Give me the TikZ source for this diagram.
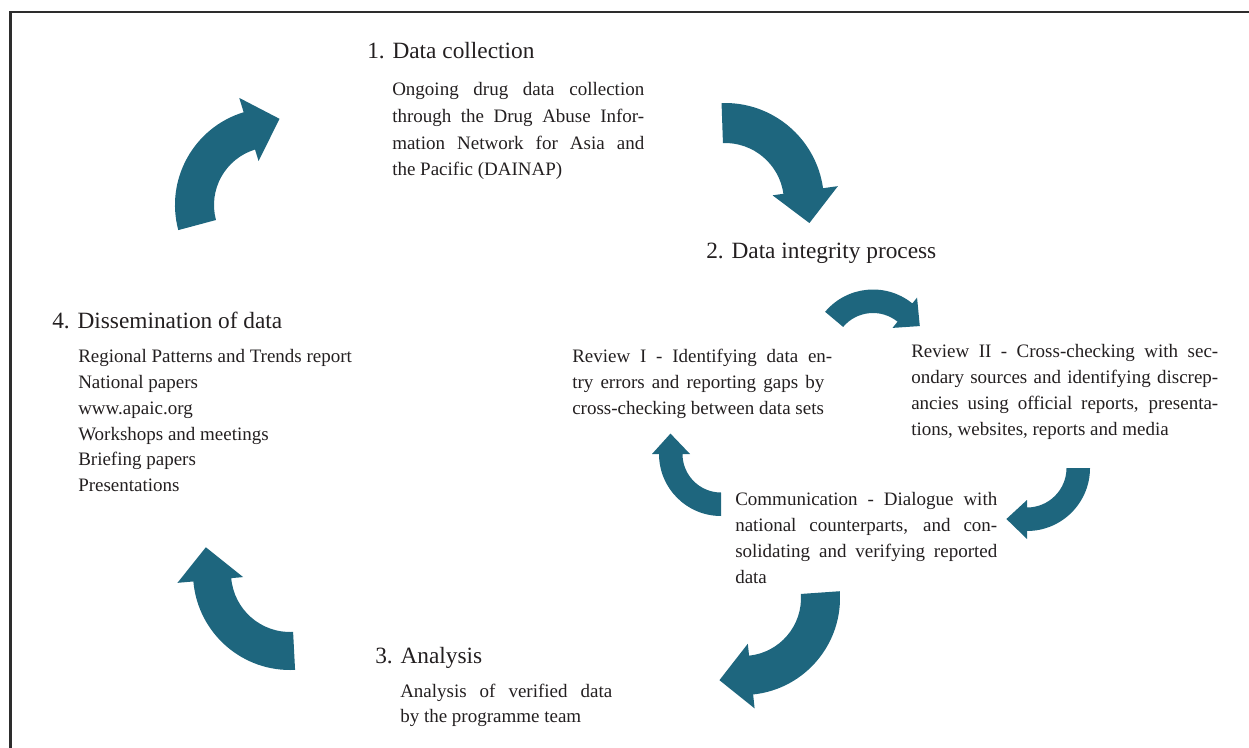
\documentclass[tikz,border=0pt]{standalone}
\usepackage{fontspec}
\setmainfont{Liberation Serif}
\definecolor{arrowteal}{RGB}{30,102,126}
\definecolor{framegray}{RGB}{45,45,45}
\definecolor{textgray}{RGB}{35,31,32}
\newcommand{\jl}[2]{\makebox[#1][s]{#2}}
% cx, cy, r-inner, r-outer, r-inner-barb, r-outer-barb, r-tip, tail angle, head angle
\newcommand{\bentarrow}[9]{%
  \fill[bentfill, shift={(#1,#2)}]
    ({-(#8)}:#4) arc[start angle={-(#8)}, end angle={-(#9)}, radius=#4]
    -- ({-(#9)}:#6) -- ({-(#9)+22}:#7) -- ({-(#9)}:#5)
    -- ({-(#9)}:#3) arc[start angle={-(#9)}, end angle={-(#8)}, radius=#3]
    -- cycle;}
\tikzset{
  heading/.style={anchor=base west, inner sep=0pt, text=textgray,
    font=\fontsize{17.5pt}{21pt}\selectfont},
  bodytext/.style={anchor=base west, inner sep=0pt, text=textgray,
    font=\fontsize{14.25pt}{19.5pt}\selectfont},
  bentfill/.style={fill=arrowteal},
  framepen/.style={draw=framegray, line width=1.7pt}
}
\begin{document}
\begin{tikzpicture}[x=0.75pt, y=-0.75pt]
\useasboundingbox (0,0) rectangle (1249,748);
% frame
\draw[framepen] (10.5,748) -- (10.5,12) -- (1249,12);

% big arrows of the main cycle
\bentarrow{272}{205}{58}{97}{46}{112}{86.5}{195}{107}  % 4 -> 1
\bentarrow{725}{202}{59}{99}{48}{114}{87}{92}{8}       % 1 -> 2
\bentarrow{743}{598}{58}{97}{46}{111}{85.5}{4}{-84}    % 2 -> 3
\bentarrow{290}{573}{59}{97}{47}{113}{88}{273}{185}    % 3 -> 4
% small arrows of the data integrity cycle
\bentarrow{873}{352}{39}{62.5}{31}{70}{53.5}{140}{51}
\bentarrow{1027}{468}{39.5}{63}{32}{71}{55}{0}{-90}
\bentarrow{721}{454}{38.5}{62}{31}{69}{54.5}{270}{180}

% texts
\node[heading] (h1) at (367,59) {1. Data collection};
\node[bodytext] (b1) at (392,96) {\parbox[t]{260pt}{\baselineskip=20pt
  \jl{189pt}{Ongoing drug data collection}\\
  \jl{189pt}{through the Drug Abuse Infor-}\\
  \jl{189pt}{mation Network for Asia and}\\
  the Pacific (DAINAP)}};

\node[heading] (h2) at (706,259) {2. Data integrity process};

\node[heading] (h4) at (52,329) {4. Dissemination of data};
\node[bodytext] (b4) at (78,363) {\parbox[t]{260pt}{\baselineskip=19.3pt
  Regional Patterns and Trends report\\
  National papers\\
  www.apaic.org\\
  Workshops and meetings\\
  Briefing papers\\
  Presentations}};

\node[bodytext] (r1) at (572,363) {\parbox[t]{260pt}{\baselineskip=19.5pt
  \jl{195pt}{Review I - Identifying data en-}\\
  \jl{189pt}{try errors and reporting gaps by}\\
  cross-checking between data sets}};

\node[bodytext] (r2) at (911,358) {\parbox[t]{260pt}{\baselineskip=19.5pt
  \jl{230.25pt}{Review II - Cross-checking with sec-}\\
  \jl{230.25pt}{ondary sources and identifying discrep-}\\
  \jl{230.25pt}{ancies using official reports, presenta-}\\
  tions, websites, reports and media}};

\node[bodytext] (cm) at (735,505) {\parbox[t]{260pt}{\baselineskip=19.5pt
  \jl{196.5pt}{Communication - Dialogue with}\\
  \jl{196.5pt}{national counterparts, and con-}\\
  \jl{196.5pt}{solidating and verifying reported}\\
  data}};

\node[heading] (h3) at (375,663) {3. Analysis};
\node[bodytext] (b3) at (400,697) {\parbox[t]{260pt}{\baselineskip=18.75pt
  \jl{159pt}{Analysis of verified data}\\
  by the programme team}};
\end{tikzpicture}
\end{document}
